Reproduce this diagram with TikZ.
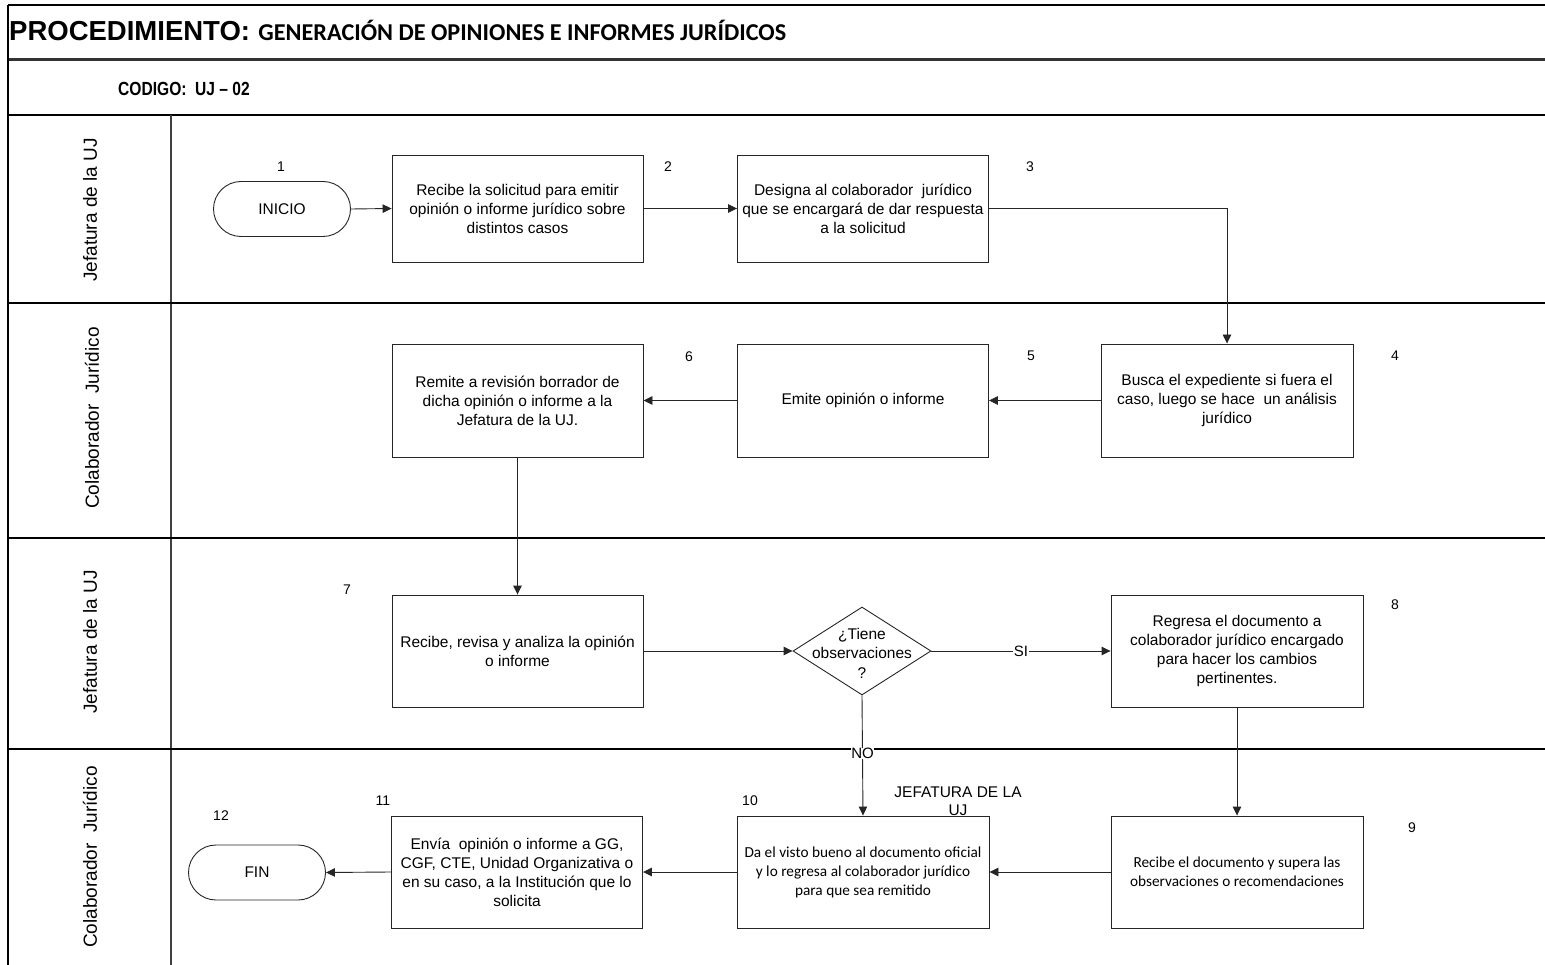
\documentclass[tikz,border=0pt]{standalone}
\usepackage{fontspec}
\setmainfont{Liberation Sans}
\newfontfamily\calfont{Carlito}
\newfontfamily\narrowfont[FakeStretch=0.82]{Liberation Sans}
\usetikzlibrary{arrows.meta,shapes.geometric,shapes.misc}

\tikzset{
  frameline/.style={draw=black, line width=1.5pt},
  laneline/.style={draw=black, line width=1.4pt},
  procbox/.style={rectangle, draw=black!85, line width=0.9pt, fill=white,
    minimum width=251pt, minimum height=112pt, inner sep=0pt, align=center,
    font=\fontsize{15.5}{19}\selectfont},
  calbox/.style={procbox, font=\calfont\fontsize{15.3}{19}\selectfont},
  terminal/.style={rounded rectangle, draw=black!85, line width=0.9pt, fill=white,
    minimum width=137pt, minimum height=55pt, inner sep=0pt,
    font=\fontsize{15.5}{19}\selectfont},
  decision/.style={diamond, draw=black!85, line width=0.9pt, fill=white,
    minimum width=138pt, minimum height=88pt, inner sep=0pt},
  flow/.style={draw=black!85, line width=0.9pt, -{Triangle[length=9pt,width=8.5pt]}},
  steplbl/.style={font=\fontsize{14}{14}\selectfont, inner sep=0pt},
  lanelbl/.style={rotate=90, font=\fontsize{19}{20}\selectfont, inner sep=0pt},
  flowlbl/.style={fill=white, inner sep=0.5pt, font=\fontsize{15}{15}\selectfont},
}

\begin{document}
\begin{tikzpicture}[x=1pt,y=-1pt]
  \useasboundingbox (0,0) rectangle (1545,965);
  \fill[white] (0,0) rectangle (1545,965);

  % header frame
  \draw[frameline] (8,5) -- (1545,5);
  \draw[draw=black!80, line width=3pt] (8,60) -- (1545,60);
  \draw[frameline, line width=2pt] (8,115) -- (1545,115);
  \draw[frameline, line width=1.3pt] (8,5) -- (8,965);
  \draw[draw=black!75, line width=1.3pt] (171,115) -- (171,965);

  % swimlane separators
  \draw[laneline] (8,303) -- (1545,303);
  \draw[laneline] (8,538) -- (1545,538);
  \draw[laneline] (8,749) -- (1545,749);

  % header text
  \node[anchor=base west, inner sep=0pt] (t1) at (9,41)
    {\fontsize{27.5}{28}\selectfont\bfseries PROCEDIMIENTO:};
  \node[anchor=base west, inner sep=0pt] (t2) at ([xshift=8pt]t1.base east)
    {\calfont\fontsize{24.2}{25}\selectfont\bfseries GENERACIÓN DE OPINIONES E INFORMES JURÍDICOS};
  \node[anchor=base west, inner sep=0pt] (code) at (118,96)
    {\narrowfont\fontsize{19}{19}\selectfont\bfseries CODIGO:~ UJ – 02};

  % lane titles
  \node[lanelbl] (lane1) at (90,210) {Jefatura de la UJ};
  \node[lanelbl] (lane2) at (92,418) {Colaborador~ Jurídico};
  \node[lanelbl] (lane3) at (90,642) {Jefatura de la UJ};
  \node[lanelbl] (lane4) at (90,857) {Colaborador~ Jurídico};

  % lane 1
  \node[terminal] (inicio) at (282,209) {INICIO};
  \node[procbox, minimum height=107pt] (b2) at (517.5,208.5)
    {Recibe la solicitud para emitir\\opinión o informe jurídico sobre\\distintos casos};
  \node[procbox, minimum height=107pt] (b3) at (863,208.5)
    {Designa al colaborador~ jurídico\\que se encargará de dar respuesta\\a la solicitud};

  % lane 2
  \node[procbox, minimum width=252pt, minimum height=113pt] (b4) at (1227,400.5)
    {Busca el expediente si fuera el\\caso, luego se hace~ un análisis\\jurídico};
  \node[procbox, minimum height=113pt] (b5) at (863,400.5) {Emite opinión o informe};
  \node[procbox, minimum height=113pt] (b6) at (517.5,400.5)
    {Remite a revisión borrador de\\dicha opinión o informe a la\\Jefatura de la UJ.};

  % lane 3
  \node[procbox] (b7) at (517.5,651)
    {Recibe, revisa y analiza la opinión\\o informe};
  \node[decision] (dec) at (862,651) {};
  \node[align=center, inner sep=0pt, font=\fontsize{15.5}{19.5}\selectfont] (dectext) at (862,653)
    {¿Tiene\\observaciones\\?};
  \node[procbox, minimum width=252pt] (b8) at (1237,651)
    {Regresa el documento a\\colaborador jurídico encargado\\para hacer los cambios\\pertinentes.};

  % lane 4
  \node[align=center, inner sep=0pt, font=\fontsize{15.5}{18}\selectfont] (note) at (958,801)
    {JEFATURA DE LA\\UJ};
  \node[calbox, minimum width=252pt] (b9) at (1237,872)
    {Recibe el documento y supera las\\observaciones o recomendaciones};
  \node[calbox, minimum width=252pt] (b10) at (863,872)
    {Da el visto bueno al documento oficial\\y lo regresa al colaborador jurídico\\para que sea remitido};
  \node[procbox] (b11) at (517,872)
    {Envía~ opinión o informe a GG,\\CGF, CTE, Unidad Organizativa o\\en su caso, a la Institución que lo\\solicita};
  \node[terminal] (fin) at (257,872.5) {FIN};

  % step numbers
  \node[steplbl] (n1) at (281,167) {1};
  \node[steplbl] (n2) at (668,167) {2};
  \node[steplbl] (n3) at (1030,167) {3};
  \node[steplbl] (n4) at (1395,356) {4};
  \node[steplbl] (n5) at (1031,356) {5};
  \node[steplbl] (n6) at (689,357) {6};
  \node[steplbl] (n7) at (347,590) {7};
  \node[steplbl] (n8) at (1395,605) {8};
  \node[steplbl] (n9) at (1412,828) {9};
  \node[steplbl] (n10) at (750,801) {10};
  \node[steplbl] (n11) at (383,801) {11};
  \node[steplbl] (n12) at (221,816) {12};

  % flow
  \draw[flow] (inicio.east) -- (b2.west);
  \draw[flow] (b2.east) -- (b3.west);
  \draw[flow] (b3.east) -| (b4.north);
  \draw[flow] (b4.west) -- (b5.east);
  \draw[flow] (b5.west) -- (b6.east);
  \draw[flow] (b6.south) -- (b7.north);
  \draw[flow] (b7.east) -- (dec.west);
  \draw[flow] (dec.east) -- node[flowlbl] (si) {SI} (b8.west);
  \draw[flow] (b8.south) -- (b9.north);
  \draw[flow] (dec.south) -- node[flowlbl, yshift=2pt] (no) {NO} (b10.north);
  \draw[flow] (b9.west) -- (b10.east);
  \draw[flow] (b10.west) -- (b11.east);
  \draw[flow] (b11.west) -- (fin.east);
\end{tikzpicture}
\end{document}
